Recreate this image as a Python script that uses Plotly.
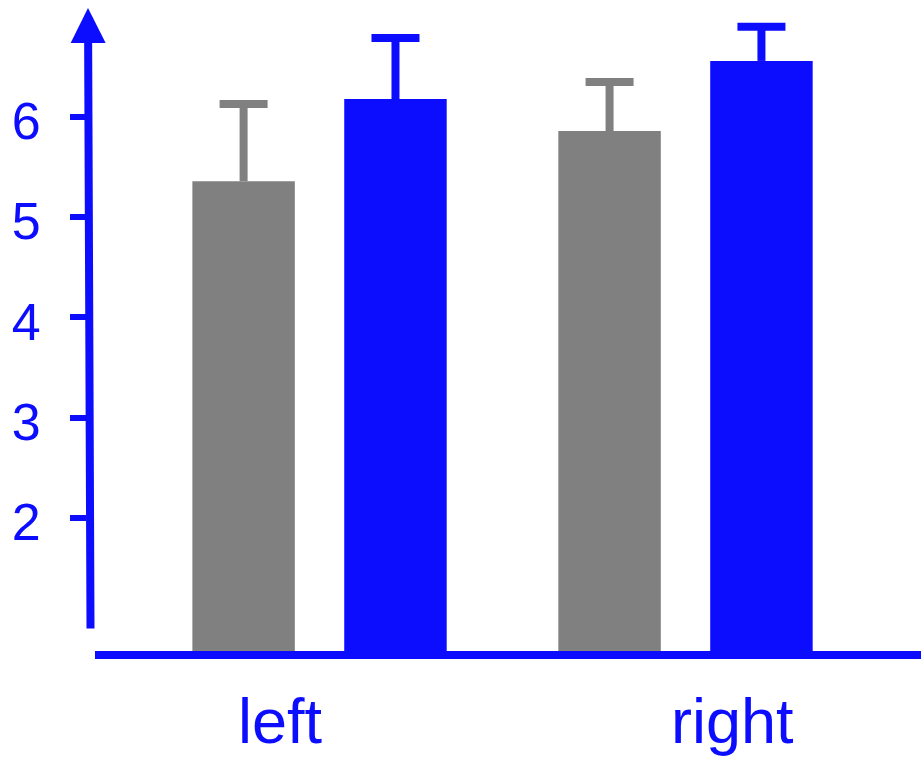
import plotly.graph_objects as go

categories = ["left", "right"]
gray_values = [5.36, 5.86]
gray_errors = [0.77, 0.49]
blue_values = [6.18, 6.56]
blue_errors = [0.61, 0.34]
y_ticks = [2, 3, 4, 5, 6]

BLUE = "#0c0cff"
GRAY = "#808080"
FONT = "Liberation Sans, Arial, sans-serif"
BAR_W = 0.28


def add_series(fig, values, errors, color, offset):
    # bar with a one-sided stem (no caps)
    fig.add_trace(go.Bar(
        x=categories, y=values, marker=dict(color=color, line=dict(width=0)),
        width=BAR_W, offset=offset,
        error_y=dict(type="data", array=errors, arrayminus=[0] * len(values),
                     symmetric=False, color=color, thickness=8, width=0),
        showlegend=False, hoverinfo="skip",
    ))
    # cap only at the top end of the error bar
    tops = [v + e for v, e in zip(values, errors)]
    fig.add_trace(go.Bar(
        x=categories, y=tops, marker=dict(color="rgba(0,0,0,0)", line=dict(width=0)),
        width=BAR_W, offset=offset,
        error_y=dict(type="data", array=[0] * len(values), symmetric=True,
                     color=color, thickness=8, width=24),
        showlegend=False, hoverinfo="skip",
    ))


fig = go.Figure()
add_series(fig, gray_values, gray_errors, GRAY, -0.35)
add_series(fig, blue_values, blue_errors, BLUE, 0.065)

# Category labels
shifts = [-39.5, 46.5]
for cat, sh in zip(categories, shifts):
    fig.add_annotation(x=cat, xref="x", y=0, yref="paper", yanchor="top",
                       text=cat, showarrow=False, xshift=sh, yshift=-33,
                       font=dict(family=FONT, size=63, color=BLUE))

# Y axis arrow
fig.add_annotation(x=0.0024, y=0.9877, xref="paper", yref="paper",
                   ax=2.5, ay=622, axref="pixel", ayref="pixel",
                   text="", showarrow=True, arrowhead=2, arrowsize=0.875,
                   arrowwidth=8, arrowcolor=BLUE, standoff=0)

fig.update_layout(
    width=921, height=765,
    margin=dict(l=86, r=0, t=0, b=114),
    paper_bgcolor="white", plot_bgcolor="white",
    barmode="overlay",
    xaxis=dict(domain=[0.0108, 1], range=[-0.616, 1.641], showline=True,
               linewidth=8, linecolor=BLUE, showticklabels=False, ticks="",
               showgrid=False, zeroline=False),
    yaxis=dict(anchor="free", position=0, range=[0.671, 7.168],
               tickvals=y_ticks, ticks="outside", ticklen=16, tickwidth=6,
               tickcolor=BLUE, showline=False, showgrid=False, zeroline=False,
               ticklabelstandoff=19, ticklabelshift=4,
               tickfont=dict(family=FONT, size=52, color=BLUE)),
)

fig.write_html("out.html",
               config={"displayModeBar": False, "staticPlot": True},
               post_script="document.body.style.margin='0';document.body.style.overflow='hidden';")
